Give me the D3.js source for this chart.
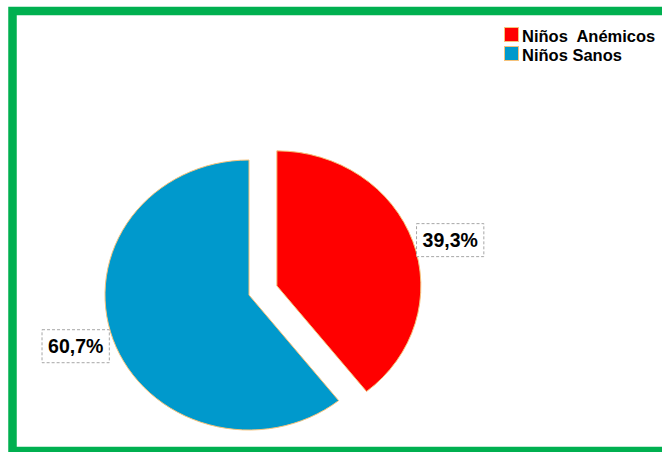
<!DOCTYPE html>
<html>
<head>
<meta charset="utf-8">
<script src="https://cdn.jsdelivr.net/npm/d3@7"></script>
<style>
  html, body { margin: 0; padding: 0; background: #fff; }
  svg { display: block; }
  text { font-family: "Liberation Sans", Arial, sans-serif; }
</style>
</head>
<body>
<svg id="chart" width="662" height="452"></svg>
<script>
// Data
const categories = ["Niños  Anémicos", "Niños Sanos"];
const values = [39.3, 60.7];
const colors = ["#FF0000", "#0099CC"];
const valueLabels = ["39,3%", "60,7%"];
const explode = [true, false];

const svg = d3.select("#chart");

// Frame
svg.append("rect")
  .attr("x", 12.5).attr("y", 11)
  .attr("width", 720).attr("height", 440)
  .attr("fill", "none")
  .attr("stroke", "#00B050")
  .attr("stroke-width", 8.5);

// Pie geometry (slightly elliptical)
const cx = 249, cy = 295;
const rx = 144, ry = 135;
const sx = rx / ry;
const explodeK = 0.205;

const pie = d3.pie().sort(null).value(d => d)
  .startAngle(0).endAngle(2 * Math.PI);
const arcs = pie(values);
const arc = d3.arc().innerRadius(0).outerRadius(ry);

const g = svg.append("g").attr("transform", `translate(${cx},${cy})`);

arcs.forEach((a, i) => {
  const mid = (a.startAngle + a.endAngle) / 2;
  const ux = Math.sin(mid), uy = -Math.cos(mid);
  const off = explode[i] ? explodeK : 0;
  const ox = ux * rx * off, oy = uy * ry * off;

  const sg = g.append("g").attr("transform", `translate(${ox},${oy})`);
  sg.append("path")
    .attr("d", arc(a))
    .attr("transform", `scale(${sx},1)`)
    .attr("fill", colors[i])
    .attr("stroke", "#F5C27A")
    .attr("stroke-width", 1)
    .attr("vector-effect", "non-scaling-stroke");

  // Value label with dashed box
  const lx = ox + ux * rx * 1.275;
  const ly = oy * 0.4 + uy * ry * 1.15;
  const fs = 19.5;
  const lg = g.append("g").attr("transform", `translate(${lx},${ly})`);
  const t = lg.append("text")
    .attr("text-anchor", "middle")
    .attr("y", fs * 0.36)
    .attr("font-size", fs)
    .attr("font-weight", "bold")
    .attr("fill", "#000")
    .text(valueLabels[i]);
  const bb = t.node().getBBox();
  const padX = 6;
  lg.insert("rect", "text")
    .attr("x", bb.x - padX)
    .attr("y", -16.5)
    .attr("width", bb.width + padX * 2)
    .attr("height", 33)
    .attr("fill", "#fff")
    .attr("stroke", "#A6A6A6")
    .attr("stroke-width", 1)
    .attr("stroke-dasharray", "3,2");
});

// Legend
const legend = svg.append("g").attr("transform", "translate(504,27)");
categories.forEach((c, i) => {
  const row = legend.append("g").attr("transform", `translate(0,${i * 19})`);
  row.append("rect")
    .attr("x", 0.5).attr("y", 0.5)
    .attr("width", 14).attr("height", 14)
    .attr("fill", colors[i])
    .attr("stroke", "#F5C27A")
    .attr("stroke-width", 1);
  row.append("text")
    .attr("x", 18).attr("y", 14.5)
    .attr("font-size", 16.5)
    .attr("font-weight", "bold")
    .attr("fill", "#000")
    .style("white-space", "pre")
    .text(c);
});
</script>
</body>
</html>
